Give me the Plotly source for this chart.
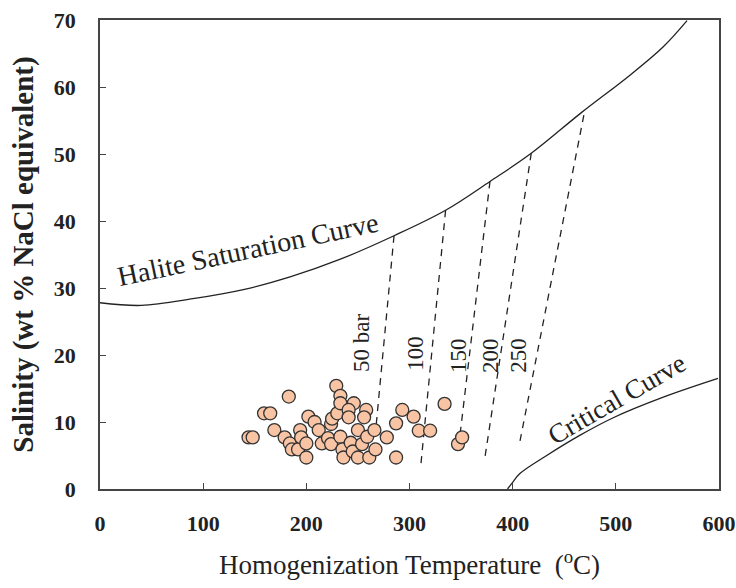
import plotly.graph_objects as go

# Fluid inclusion data (homogenization temperature, salinity)
temp_c = [144, 148, 159, 165, 183, 169, 179, 184, 186, 192, 194, 195, 200, 200,
          202, 208, 212, 215, 221, 224, 224, 225, 230, 229, 233, 233, 246, 241,
          241, 258, 256, 233, 235, 236, 243, 245, 250, 250, 254, 259, 261, 266,
          267, 278, 287, 287, 293, 304, 309, 320, 334, 347, 351]
salinity = [7.7, 7.7, 11.3, 11.3, 13.8, 8.8, 7.7, 6.8, 5.9, 5.9, 8.8, 7.7, 6.8, 4.7,
            10.8, 10.0, 8.8, 6.8, 7.6, 6.7, 9.7, 10.5, 11.3, 15.4, 13.9, 12.8, 12.8, 11.8,
            10.7, 11.8, 10.7, 7.8, 5.9, 4.7, 6.9, 5.6, 4.7, 8.8, 6.7, 7.8, 4.7, 8.8,
            5.9, 7.7, 4.7, 9.8, 11.8, 10.8, 8.7, 8.7, 12.7, 6.7, 7.7]

# Halite saturation curve
halite_t = [0, 40, 90, 140, 185, 233, 285, 335, 378, 418, 466, 514, 546, 569]
halite_s = [27.8, 27.4, 28.4, 29.8, 31.7, 34.3, 37.8, 41.6, 45.9, 50.1, 56.1, 61.8, 66.0, 69.9]

# Critical curve
critical_t = [395, 400, 407, 433, 465, 497, 546, 599]
critical_s = [0.0, 1.0, 2.3, 5.0, 8.0, 10.6, 13.7, 16.5]

# Isobars (top on halite curve, bottom end)
isobar_labels = ["50 bar", "100", "150", "200", "250"]
isobar_t_top = [285, 335, 378, 418, 469]
isobar_s_top = [37.8, 41.6, 45.9, 50.1, 55.8]
isobar_t_bot = [264, 311, 347, 373, 406]
isobar_s_bot = [3.5, 3.6, 5.5, 4.6, 6.3]
isobar_label_t = [254, 306, 347, 378, 405]
isobar_label_s = [21.8, 20.3, 20.0, 20.0, 20.0]

x_ticks = [0, 100, 200, 300, 400, 500, 600]
y_ticks = [0, 10, 20, 30, 40, 50, 60, 70]

SERIF = "Liberation Serif"

fig = go.Figure()

fig.add_trace(go.Scatter(x=halite_t, y=halite_s, mode="lines",
                         line=dict(color="#222222", width=1.3, shape="spline"),
                         showlegend=False, hoverinfo="skip"))
fig.add_trace(go.Scatter(x=critical_t, y=critical_s, mode="lines",
                         line=dict(color="#222222", width=1.3, shape="spline"),
                         showlegend=False, hoverinfo="skip"))

for i in range(len(isobar_labels)):
    fig.add_trace(go.Scatter(x=[isobar_t_top[i], isobar_t_bot[i]],
                             y=[isobar_s_top[i], isobar_s_bot[i]], mode="lines",
                             line=dict(color="#222222", width=1.3, dash="7px,6px"),
                             showlegend=False, hoverinfo="skip"))
    fig.add_annotation(x=isobar_label_t[i], y=isobar_label_s[i], text=isobar_labels[i],
                       showarrow=False, textangle=-90,
                       font=dict(family=SERIF, size=23, color="#222222"))

fig.add_trace(go.Scatter(x=temp_c, y=salinity, mode="markers",
                         marker=dict(size=13, color="#F8C4A4",
                                     line=dict(color="#333333", width=1.3)),
                         showlegend=False))

fig.add_annotation(x=143, y=35.7, text="Halite Saturation Curve", showarrow=False,
                   textangle=-12, font=dict(family=SERIF, size=28, color="#222222"))
fig.add_annotation(x=501, y=13.4, text="Critical Curve", showarrow=False,
                   textangle=-30, font=dict(family=SERIF, size=27, color="#222222"))

axis_common = dict(showgrid=False, zeroline=False, showline=True, linecolor="#444444",
                   linewidth=1.5, mirror=True, ticks="inside", ticklen=6,
                   tickcolor="#444444", tickwidth=1.3, automargin=False)

fig.update_xaxes(range=[0, 600], tickvals=x_ticks, ticktext=[str(v) for v in x_ticks],
                 tickfont=dict(family=SERIF, size=22, color="#222222", weight="bold"),
                 ticklabelstandoff=14,
                 title=dict(text="Homogenization Temperature  (<sup>o</sup>C)",
                            font=dict(family=SERIF, size=27, color="#222222"), standoff=20),
                 **axis_common)
fig.update_yaxes(range=[0, 70], tickvals=y_ticks, ticktext=[str(v) for v in y_ticks],
                 tickfont=dict(family=SERIF, size=22, color="#222222", weight="bold"),
                 ticklabelstandoff=18,
                 title=dict(text="Salinity (wt % NaCl equivalent)",
                            font=dict(family=SERIF, size=29, color="#222222", weight="bold"),
                            standoff=12),
                 **axis_common)

fig.update_layout(width=736, height=588, margin=dict(l=100, r=17, t=20, b=99),
                  plot_bgcolor="white", paper_bgcolor="white")

fig.write_html("out.html", config={"displayModeBar": False},
               post_script="document.body.style.margin='0';")
